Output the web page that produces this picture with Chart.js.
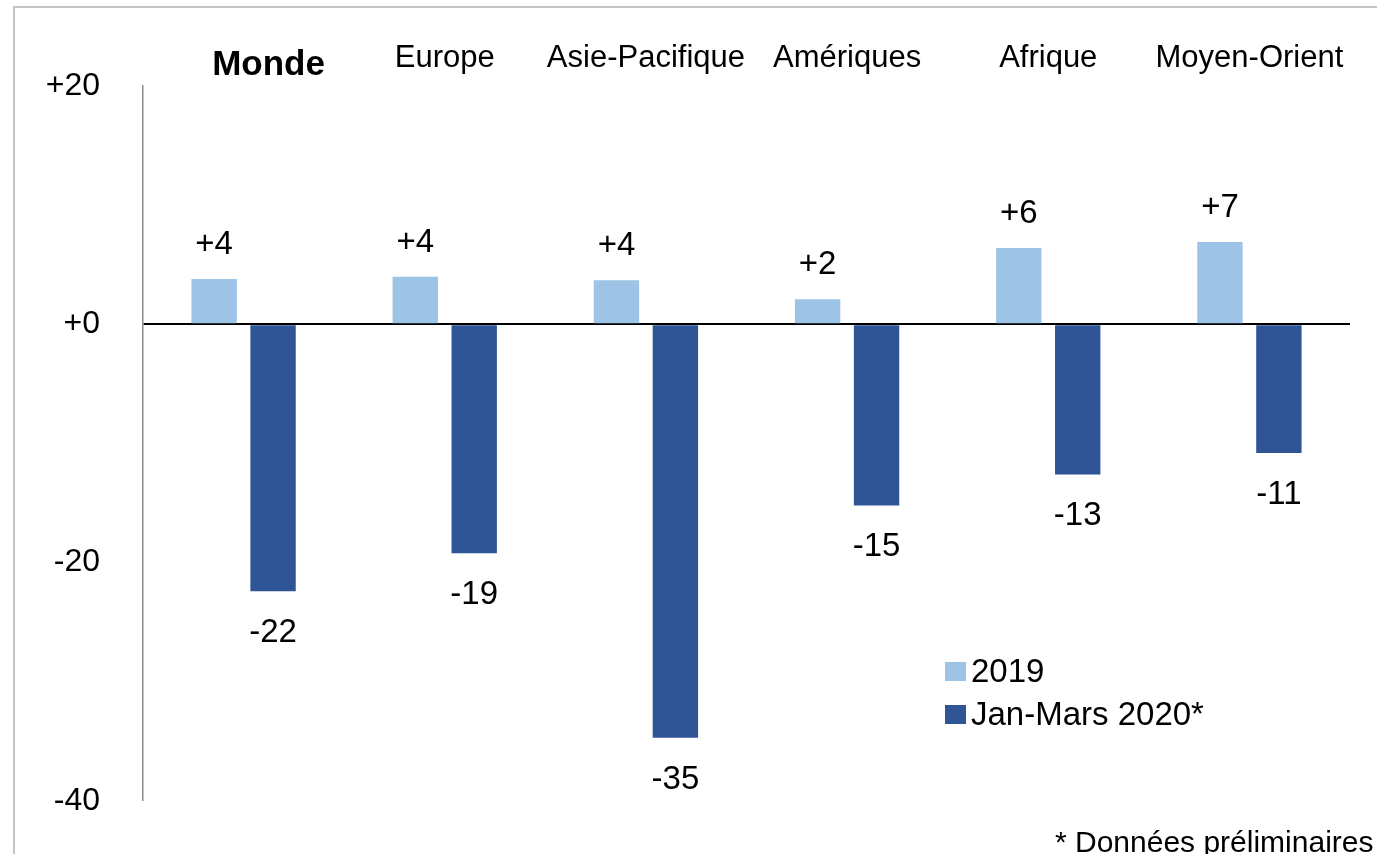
<!DOCTYPE html>
<html>
<head>
<meta charset="utf-8">
<script src="https://cdn.jsdelivr.net/npm/chart.js@4.4.1/dist/chart.umd.min.js"></script>
<style>
  html, body { margin: 0; padding: 0; background: #fff; overflow: hidden; }
  #wrap { position: relative; width: 1377px; height: 854px; }
  #myChart { display: block; }
  #frame { position: absolute; left: 13px; top: 6px; width: 1400px; height: 900px;
           border-left: 2px solid #c4c4c4; border-top: 2px solid #c4c4c4; pointer-events: none; }
</style>
</head>
<body>
<div id="wrap">
  <canvas id="myChart" width="1377" height="854"></canvas>
  <div id="frame"></div>
</div>
<script>
const regions = ["Monde", "Europe", "Asie-Pacifique", "Amériques", "Afrique", "Moyen-Orient"];
const data2019 = [3.8, 4.0, 3.7, 2.1, 6.4, 6.9];
const data2020 = [-22.4, -19.2, -34.7, -15.2, -12.6, -10.8];
const seriesNames = ["2019", "Jan-Mars 2020*"];
const yTicks = [20, 0, -20, -40];
const footnote = "* Données préliminaires";

const FONT = "'Liberation Sans', Arial, sans-serif";
const signed = v => (v >= 0 ? "+" : "") + Math.round(v);

// labels above / below the bars, region names on top, legend and footnote
const decor = {
  id: 'decor',
  afterDatasetsDraw(chart) {
    const ctx = chart.ctx;
    const x = chart.scales.x;
    ctx.save();
    ctx.fillStyle = '#000';
    ctx.textAlign = 'center';
    ctx.textBaseline = 'alphabetic';

    // value labels
    ctx.font = "33px " + FONT;
    chart.data.datasets.forEach((ds, di) => {
      chart.getDatasetMeta(di).data.forEach((bar, i) => {
        const v = ds.data[i];
        if (v >= 0) ctx.fillText(signed(v), bar.x, bar.y - 25);
        else ctx.fillText(signed(v), bar.x, bar.y + 51);
      });
    });

    // region names
    regions.forEach((r, i) => {
      const cx = x.getPixelForValue(i);
      if (i === 0) {
        ctx.font = "bold 35px " + FONT;
        ctx.fillText(r, cx + 25, 75);
      } else {
        ctx.font = "31px " + FONT;
        ctx.fillText(r, cx, 67);
      }
    });

    // legend
    ctx.textAlign = 'left';
    ctx.font = "33px " + FONT;
    chart.data.datasets.forEach((ds, di) => {
      const y = 682 + di * 43;
      ctx.fillStyle = ds.backgroundColor;
      ctx.fillRect(945, y - 20, 21, 19);
      ctx.fillStyle = '#000';
      ctx.fillText(ds.label, 971, y);
    });

    // footnote
    ctx.font = "30px " + FONT;
    ctx.fillText(footnote, 1055, 852);
    ctx.restore();
  }
};

const config = {
  type: 'bar',
  data: {
    labels: regions,
    datasets: [
      {
        label: seriesNames[0],
        data: data2019,
        backgroundColor: '#9DC3E6',
        categoryPercentage: 0.586,
        barPercentage: 0.77
      },
      {
        label: seriesNames[1],
        data: data2020,
        backgroundColor: '#2F5597',
        categoryPercentage: 0.586,
        barPercentage: 0.77
      }
    ]
  },
  options: {
    responsive: false,
    maintainAspectRatio: false,
    animation: false,
    devicePixelRatio: 1,
    layout: { padding: { left: 0, right: 27, top: 86, bottom: 53 } },
    plugins: {
      legend: { display: false },
      tooltip: { enabled: false },
      title: { display: false }
    },
    scales: {
      x: {
        display: false
      },
      y: {
        min: -40,
        max: 20,
        z: 1,
        afterFit: s => {
          s.width = 143;
          // tick padding is horizontal here, don't let it eat vertical space
          s.paddingTop = 20;
          s.paddingBottom = 20;
        },
        afterBuildTicks: s => { s.ticks = yTicks.map(v => ({ value: v })); },
        ticks: {
          padding: 43,
          color: '#000',
          font: { family: FONT, size: 32 },
          callback: v => signed(v)
        },
        grid: {
          drawTicks: false,
          color: c => (c.tick && c.tick.value === 0 ? '#000' : 'rgba(0,0,0,0)'),
          lineWidth: c => (c.tick && c.tick.value === 0 ? 2 : 0)
        },
        border: { display: true, color: '#8c8c8c', width: 1.5 }
      }
    }
  },
  plugins: [decor]
};

const myChart = new Chart(document.getElementById('myChart'), config);
</script>
</body>
</html>
